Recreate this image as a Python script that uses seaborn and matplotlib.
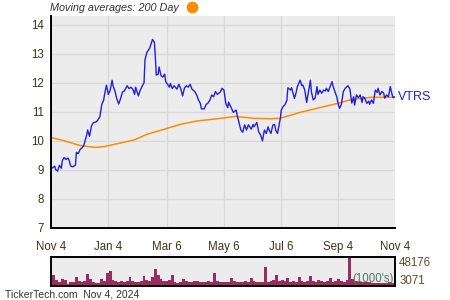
import numpy as np
import pandas as pd
import matplotlib
matplotlib.use("Agg")
import matplotlib.pyplot as plt
from matplotlib.lines import Line2D
import seaborn as sns

# ---------------- data ----------------
start_date = "2023-11-04"
tick_dates = ["2023-11-04", "2024-01-04", "2024-03-06", "2024-05-06",
              "2024-07-06", "2024-09-04", "2024-11-04"]
tick_labels = ["Nov 4", "Jan 4", "Mar 6", "May 6", "Jul 6", "Sep 4", "Nov 4"]
y_ticks = [7, 8, 9, 10, 11, 12, 13, 14]

price_days = [0, 1, 4, 5, 7, 9, 11, 12, 14, 16, 18, 19, 21, 23, 26, 27, 29, 31, 33, 35,
              38, 39, 41, 43, 45, 48, 50, 52, 54, 56, 57, 59, 61, 63, 65, 66, 68, 70, 72, 74,
              76, 78, 81, 83, 85, 87, 89, 90, 93, 95, 98, 99, 100, 102, 105, 106, 108, 110,
              111, 112, 114, 115, 117, 119, 121, 122, 124, 126, 127, 129, 131, 134, 136, 138,
              140, 142, 144, 146, 148, 150, 151, 153, 155, 157, 159, 160, 163, 165, 167, 169,
              171, 173, 175, 177, 180, 182, 184, 186, 188, 189, 192, 194, 197, 198, 200, 202,
              204, 206, 208, 210, 213, 215, 216, 219, 221, 223, 225, 227, 229, 231, 232, 234,
              236, 238, 239, 241, 244, 245, 247, 249, 251, 252, 255, 256, 259, 261, 262, 265,
              267, 268, 270, 272, 274, 276, 277, 279, 281, 283, 284, 286, 288, 290, 292, 293,
              295, 297, 299, 300, 302, 304, 306, 307, 309, 311, 313, 315, 316, 318, 320, 322,
              323, 325, 327, 329, 331, 332, 334, 336, 338, 339, 341, 343, 345, 347, 348, 350,
              352, 354, 355, 357, 359, 361, 363, 364, 366]
price_vals = [9.10, 9.05, 9.12, 9.00, 8.95, 9.15, 9.05, 9.30, 9.42, 9.35, 9.40, 9.35, 9.12,
              9.10, 9.15, 9.60, 9.55, 9.70, 9.75, 9.85, 10.20, 10.37, 10.15, 10.50, 10.62,
              10.65, 10.72, 10.83, 11.25, 11.40, 11.60, 11.92, 11.60, 11.75, 12.09, 11.90,
              11.72, 11.45, 11.27, 11.45, 11.68, 11.72, 11.90, 11.80, 11.85, 11.78, 11.60,
              11.85, 11.55, 11.75, 11.95, 12.00, 12.80, 13.05, 13.20, 13.30, 13.50, 13.40,
              12.90, 12.27, 12.30, 12.55, 12.25, 12.20, 12.30, 12.04, 11.95, 11.85, 11.98,
              11.80, 11.90, 11.78, 11.95, 11.80, 11.55, 11.82, 11.90, 11.85, 11.95, 11.78,
              11.75, 11.70, 11.58, 11.40, 11.28, 11.10, 11.10, 11.25, 11.30, 11.40, 11.58,
              11.52, 11.70, 11.60, 11.68, 11.81, 11.75, 11.29, 11.14, 11.33, 11.12, 10.98,
              11.06, 10.89, 10.63, 10.37, 10.29, 10.55, 10.37, 10.55, 10.40, 10.56, 10.48,
              10.63, 10.30, 10.20, 9.99, 10.37, 10.25, 10.48, 10.37, 10.25, 10.54, 10.56,
              10.37, 10.25, 10.77, 11.06, 11.18, 11.25, 11.40, 11.83, 11.75, 11.83, 11.46,
              11.69, 11.86, 12.09, 11.90, 11.92, 11.75, 11.32, 11.70, 12.09, 11.70, 11.41,
              11.47, 11.87, 11.60, 11.75, 11.64, 11.75, 11.72, 11.81, 11.70, 11.87, 12.04,
              11.90, 11.70, 11.52, 11.21, 11.12, 11.26, 11.70, 11.81, 11.87, 11.90, 11.79,
              11.30, 11.52, 11.23, 11.58, 11.49, 11.58, 11.32, 11.52, 11.46, 11.29, 11.37,
              11.26, 11.41, 11.29, 11.75, 11.67, 11.81, 11.58, 11.70, 11.64, 11.47, 11.58,
              11.52, 11.87, 11.58, 11.49, 11.52]

ma_days = [0, 15, 29, 36, 47, 57, 71, 89, 102, 121, 137, 155, 180, 196, 217, 233, 243,
           256, 265, 278, 305, 317, 326, 341, 366]
ma_vals = [10.11, 9.99, 9.85, 9.81, 9.77, 9.80, 9.90, 10.03, 10.22, 10.40, 10.56, 10.68,
           10.77, 10.84, 10.77, 10.76, 10.77, 10.89, 10.98, 11.08, 11.29, 11.40, 11.45,
           11.50, 11.50]

# volume (thousands of shares), one bar per 3 days
vol_vals = [15000, 17000, 9000, 6000, 11300, 9000, 2800, 5000, 6000, 14000, 7400, 6500,
            7000, 18700, 10000, 5000, 4000, 4500, 10000, 8000, 21000, 24400, 9000, 7500,
            6500, 7500, 6000, 8000, 14000, 7000, 6000, 5500, 7000, 15300, 9000, 8000, 14000,
            27200, 17000, 11000, 8000, 7000, 9000, 17000, 6000, 4500, 5000, 11000, 7000,
            6000, 5000, 7000, 7500, 5000, 6000, 5500, 7000, 6000, 21000, 7000, 5000, 6000,
            5500, 6000, 12000, 7000, 6000, 5500, 6500, 7500, 6000, 13000, 7000, 6000, 6500,
            5500, 31000, 6000, 7000, 9000, 18000, 8000, 9000, 7000, 13000, 6000, 7000, 6500,
            14000, 8000, 6000, 7000, 16000, 7000, 6000, 9000, 7000, 6500, 8000, 13000, 6000,
            7000, 11000, 7000, 6000, 9000, 48176, 11000, 7000, 6500, 5500, 6000, 5000, 5000,
            4500, 4000, 4000, 4500, 3500, 3500, 5000, 4000, 3071]
vol_step_days = 3
vol_labels = ["48176", "3071"]

# ---------------- build ----------------
start = pd.Timestamp(start_date)
tick_pos = [(pd.Timestamp(d) - start).days for d in tick_dates]
minor_pos = [(a + b) / 2 for a, b in zip(tick_pos[:-1], tick_pos[1:])]
price_df = pd.DataFrame({"day": price_days, "price": price_vals})
ma_df = pd.DataFrame({"day": ma_days, "ma": ma_vals})
vol_df = pd.DataFrame({"day": np.arange(len(vol_vals)) * vol_step_days, "vol": vol_vals})

sns.set_style("white")
plt.rcParams["font.family"] = ["Liberation Sans", "DejaVu Sans"]

W, H = 450, 300
fig = plt.figure(figsize=(4.5, 3.0), dpi=100)
BG = "#ececec"
GRID = "#d9d9d9"
LBL = "#3f3318"

def fx(px):
    return px / W

def fy(py):
    return 1 - py / H

ax = fig.add_axes([fx(51), fy(227.5), fx(395) - fx(51), fy(16) - fy(227.5)])
ax.set_facecolor(BG)
sns.lineplot(data=ma_df, x="day", y="ma", ax=ax, color="#ff8c00", lw=1.1,
             estimator=None, sort=False)
sns.lineplot(data=price_df, x="day", y="price", ax=ax, color="#2020e0", lw=1.0,
             estimator=None, sort=False)
ax.set_xlim(0, tick_pos[-1])
ax.set_ylim(7, 14.31)
ax.set_xticks(tick_pos)
ax.set_xticklabels(tick_labels)
ax.set_xticks(minor_pos, minor=True)
ax.set_yticks(y_ticks)
ax.set_yticklabels([str(v) for v in y_ticks])
ax.set_yticks(np.arange(7.5, 14.3, 1.0), minor=True)
ax.set_xlabel("")
ax.set_ylabel("")
ax.grid(True, which="major", color=GRID, lw=1.0)
ax.set_axisbelow(True)
for s in ["top", "right"]:
    ax.spines[s].set_visible(False)
for s in ["left", "bottom"]:
    ax.spines[s].set_color("black")
    ax.spines[s].set_linewidth(1.4)
ax.tick_params(axis="both", which="both", direction="in", color="black",
               length=4, width=1.0, labelsize=8.3, labelcolor=LBL)
ax.tick_params(axis="x", which="major", pad=10)
ax.tick_params(axis="y", which="major", pad=5)

# VTRS label at last price
ax.text(tick_pos[-1] + 3, price_vals[-1], "VTRS", color="#2020e0", fontsize=9,
        va="center", ha="left", clip_on=False)

# volume panel
ax2 = fig.add_axes([fx(51), fy(285.5), fx(395) - fx(51), fy(256.5) - fy(285.5)])
ax2.set_facecolor(BG)
sns.histplot(data=vol_df, x="day", weights="vol", binwidth=vol_step_days,
             binrange=(-vol_step_days / 2, tick_pos[-1] + vol_step_days / 2),
             ax=ax2, color="#9b2d5e", alpha=1.0, edgecolor="none", linewidth=0)
ax2.set_xlim(0, tick_pos[-1])
ax2.set_ylim(0, max(vol_vals))
ax2.set_xticks([])
ax2.yaxis.tick_right()
ax2.set_yticks([max(vol_vals), vol_vals[-1]])
tl = ax2.set_yticklabels(vol_labels)
tl[0].set_va("top")
tl[1].set_va("baseline")
ax2.tick_params(axis="y", length=0, pad=3, labelsize=8.3, labelcolor="#5a4c2c")
ax2.set_xlabel("")
ax2.set_ylabel("")
for s in ax2.spines.values():
    s.set_visible(True)
    s.set_color("black")
    s.set_linewidth(1.4)
ax2.text(0.995, 0.12, "(1000's)", transform=ax2.transAxes, ha="right", va="baseline",
         fontsize=8.3, color="#4e7a60")

# header & footer
fig.text(fx(50), fy(8), "Moving averages: 200 Day", fontsize=7.8, style="italic",
         color="#333333", va="center", ha="left")
fig.add_artist(Line2D([fx(192)], [fy(7)], marker="o", markersize=7.5,
                      color="#ff8c00", transform=fig.transFigure))
fig.text(fx(5), fy(294.5), "TickerTech.com  Nov 4, 2024", fontsize=7.5,
         color="#333333", va="center", ha="left")

fig.savefig("out.png", dpi=100, facecolor="white")
